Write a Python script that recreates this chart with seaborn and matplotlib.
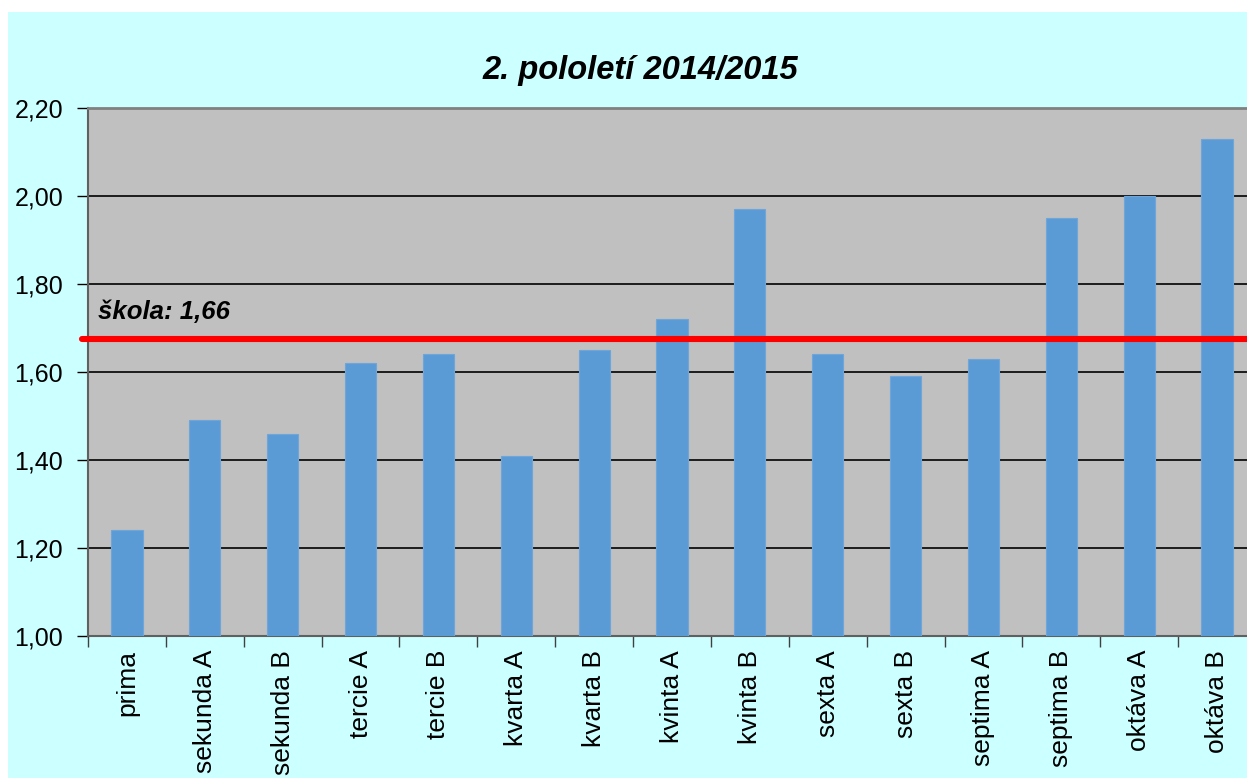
import pandas as pd
import matplotlib.pyplot as plt
import seaborn as sns
from matplotlib.patches import Rectangle
from matplotlib.ticker import FuncFormatter, FixedLocator

# Class averages, 2nd half-year 2014/2015
classes = ['prima', 'sekunda A', 'sekunda B', 'tercie A', 'tercie B',
           'kvarta A', 'kvarta B', 'kvinta A', 'kvinta B', 'sexta A',
           'sexta B', 'septima A', 'septima B', 'oktáva A', 'oktáva B']
averages = [1.24, 1.49, 1.46, 1.62, 1.64, 1.41, 1.65, 1.72, 1.97, 1.64,
            1.59, 1.63, 1.95, 2.00, 2.13]
school_label = 'škola: 1,66'
school_line = 1.675
y_ticks = [1.0, 1.2, 1.4, 1.6, 1.8, 2.0, 2.2]

df = pd.DataFrame({'Třída': classes, 'Průměr': averages})

sns.set_style('white')
plt.rcParams['font.family'] = ['Liberation Sans', 'DejaVu Sans']
plt.rcParams['text.color'] = 'black'
plt.rcParams['xtick.color'] = 'black'
plt.rcParams['ytick.color'] = 'black'

W, H = 1247, 778
fig = plt.figure(figsize=(W / 100, H / 100), dpi=100, facecolor='white')
# cyan chart background (white margin at top/left like the original)
fig.patches.append(Rectangle((8 / W, 0), 1 - 8 / W, 1 - 12 / H,
                             transform=fig.transFigure, facecolor='#CCFFFF',
                             edgecolor='none', zorder=-10))

ax = fig.add_axes([88 / W, 1 - 636 / H, 1168 / W, 528 / H])
ax.set_facecolor('#C0C0C0')

sns.barplot(data=df, x='Třída', y='Průměr', color='#5B9BD5', width=0.4,
            saturation=1, edgecolor='#6FA6DA', linewidth=0.8, ax=ax, zorder=3)

ax.set_ylim(1.0, 2.2)
ax.set_xlim(-0.5, len(classes) - 0.5)
ax.yaxis.set_major_locator(FixedLocator(y_ticks))
ax.yaxis.set_major_formatter(FuncFormatter(lambda v, p: f'{v:.2f}'.replace('.', ',')))
ax.grid(axis='y', color='black', linewidth=1.2, zorder=1)
ax.set_axisbelow(True)

ax.set_xlabel('')
ax.set_ylabel('')
ax.tick_params(axis='x', which='major', length=0, pad=10, labelsize=19,
               labelcolor='black', rotation=90)
ax.xaxis.set_minor_locator(FixedLocator([i - 0.5 for i in range(len(classes) + 1)]))
ax.tick_params(axis='x', which='minor', length=8, width=1, color='#404040',
               direction='out', bottom=True)
ax.tick_params(axis='y', length=8, width=1, color='black', direction='out',
               left=True, labelsize=18, labelcolor='black', pad=10)

for side in ['left', 'bottom']:
    ax.spines[side].set_color('#606060')
    ax.spines[side].set_linewidth(1.5)
ax.spines['top'].set_color('#808080')
ax.spines['top'].set_linewidth(2)
ax.spines['right'].set_visible(False)

# school average line
ax.axhline(school_line, xmin=-6 / 1168, xmax=1, color='#FF0000',
           linewidth=4.4, clip_on=False, zorder=5)
ax.text(-0.37, school_line + 0.035, school_label, fontsize=18.5, color='black',
        fontweight='bold', fontstyle='italic', va='bottom', ha='left', zorder=6)

fig.text(640 / W, 1 - 70 / H, '2. pololetí 2014/2015', fontsize=23.5,
         color='black', fontweight='bold', fontstyle='italic',
         ha='center', va='center')

fig.savefig('out.png', dpi=100)
plt.close()
